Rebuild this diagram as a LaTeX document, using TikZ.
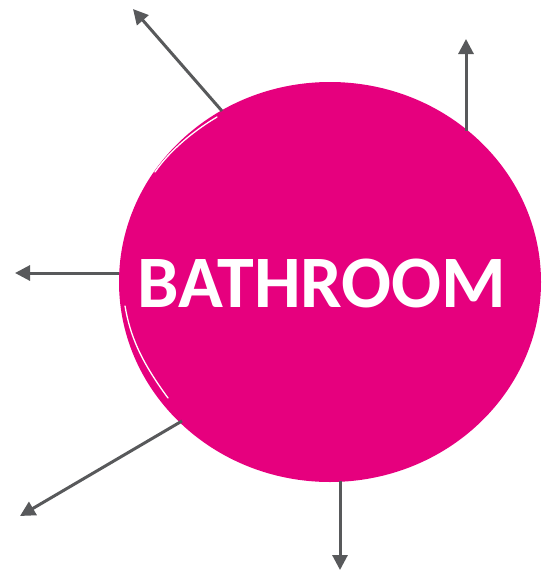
\documentclass[tikz,border=0pt]{standalone}
\usepackage{fontspec}
\setmainfont{Carlito}
\usetikzlibrary{arrows.meta}
\definecolor{blob}{HTML}{E6007E}
\definecolor{pointer}{HTML}{58595B}

\begin{document}
\begin{tikzpicture}[
    x=1pt, y=-1pt,
    room/.style={font=\fontsize{74}{74}\selectfont\bfseries, text=white, inner sep=0pt},
    ray/.style={-{Triangle[length=15pt, width=15pt]}, pointer, line width=3pt},
    gloss/.style={white, line width=1.3pt, line cap=round},
]
\useasboundingbox (0,0) rectangle (552,570);

% ---- the brush blob ----
\fill[blob] (330,282) ellipse [x radius=211, y radius=200];
\draw[gloss] (217,117) .. controls (195,130) and (170,150) .. (155,172);
\draw[gloss] (125,306) .. controls (130,335) and (140,360) .. (168,398);

\node[room] (bath) at (322,283) {BATHROOM};

% ---- pointers ----
\coordinate (e1) at (222,111);
\coordinate (e2) at (466,131);
\coordinate (e3) at (119,273);
\coordinate (e4) at (182,421);
\coordinate (e5) at (340,481);
\coordinate (t1) at (133,9);
\coordinate (t2) at (466,39);
\coordinate (t3) at (15,273);
\coordinate (t4) at (20,516);
\coordinate (t5) at (340,570);
\foreach \i in {1,...,5}
    \draw[ray] (e\i) -- (t\i);
\end{tikzpicture}
\end{document}
